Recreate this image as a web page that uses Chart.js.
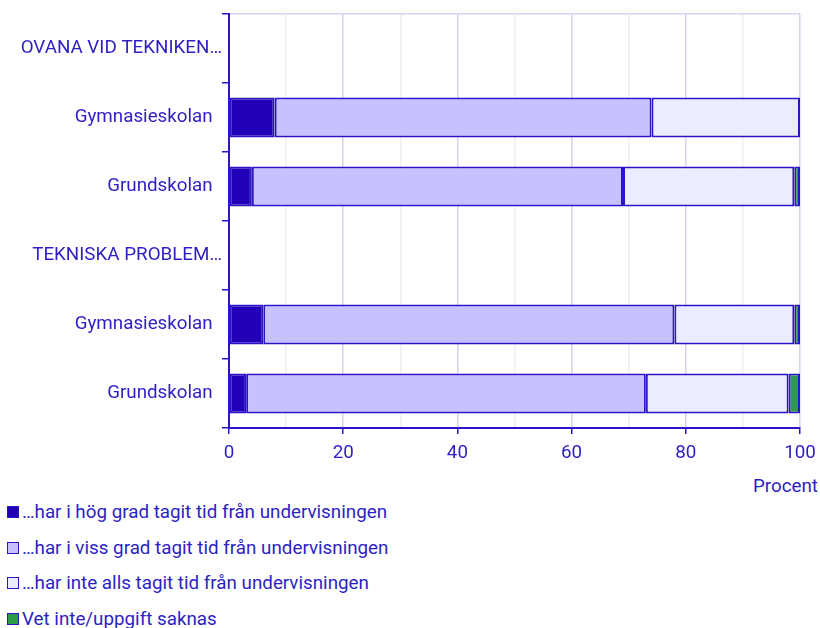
<!DOCTYPE html>
<html>
<head>
<meta charset="utf-8">
<script src="https://cdn.jsdelivr.net/npm/chart.js@4"></script>
<style>
    body { margin: 0; background: #fff; font-family: Roboto, sans-serif; color: #2d1fc4; }
    #wrap { position: relative; width: 820px; height: 628px; }
    #chartBox { position: absolute; left: 0; top: 0; width: 820px; height: 470px; }
    #procent { position: absolute; right: 2px; top: 475px; font-size: 18.8px; }
    #legend { position: absolute; left: 7px; top: 500px; }
    .item { height: 35.5px; display: flex; align-items: flex-start; font-size: 18.8px; line-height: 24px; }
    .box { width: 10px; height: 10px; border: 1.5px solid #2b14c8; margin: 6px 3px 0 0; }
</style>
</head>
<body>
<div id="wrap">
    <div id="chartBox"><canvas id="chart"></canvas></div>
    <div id="procent">Procent</div>
    <div id="legend"></div>
</div>
<script>
    var categories = ['OVANA VID TEKNIKEN…', 'Gymnasieskolan', 'Grundskolan', 'TEKNISKA PROBLEM…', 'Gymnasieskolan', 'Grundskolan'];
    var isHeader = [true, false, false, true, false, false];
    var hogGrad = [null, 8, 4, null, 6, 3];
    var vissGrad = [null, 66, 65, null, 72, 70];
    var inteAlls = [null, 26, 30, null, 21, 25];
    var vetInte = [null, null, 1, null, 1, 2];
    var xTicks = [0, 20, 40, 60, 80, 100];
    var seriesNames = ['…har i hög grad tagit tid från undervisningen', '…har i viss grad tagit tid från undervisningen', '…har inte alls tagit tid från undervisningen', 'Vet inte/uppgift saknas'];
    var seriesColors = ['#2200b8', '#c8c0ff', '#ecebff', '#2f9a48'];

    var textColor = '#2d1fc4';
    var axisColor = '#2b14c8';
    var fontSize = 18.8;

    // header rows sit closer to the axis, so pad the others with spaces
    var labels = categories.map(function(c, i) {
        return isHeader[i] ? c : c + '  ';
    });

    var seriesData = [hogGrad, vissGrad, inteAlls, vetInte];
    var datasets = seriesData.map(function(d, i) {
        return {
            label: seriesNames[i],
            data: d,
            backgroundColor: seriesColors[i],
            borderColor: axisColor,
            borderWidth: 2,
            borderSkipped: false,
            barPercentage: 0.58,
            categoryPercentage: 1
        }
    });

    var ctx = document.getElementById("chart").getContext("2d");
    var chart = new Chart(ctx, {
        type: 'bar',
        data: {
            labels: labels,
            datasets: datasets
        },
        options: {
            indexAxis: 'y',
            responsive: true,
            maintainAspectRatio: false,
            animation: false,
            layout: {
                padding: { top: 14, right: 20, left: 0, bottom: 0 }
            },
            plugins: {
                legend: { display: false },
                tooltip: { enabled: false }
            },
            scales: {
                x: {
                    stacked: true,
                    min: 0,
                    max: 100,
                    ticks: {
                        stepSize: 10,
                        color: textColor,
                        font: { family: 'Roboto', size: fontSize },
                        padding: 8,
                        maxRotation: 0,
                        autoSkip: false,
                        callback: function(v) {
                            return xTicks.indexOf(v) >= 0 ? v : '';
                        }
                    },
                    grid: {
                        color: function(c) {
                            return c.tick && c.tick.value % 20 == 0 ? '#d6d2f2' : '#efeef4';
                        },
                        lineWidth: 1.5,
                        tickLength: 6,
                        tickColor: function(c) {
                            return c.tick && c.tick.value % 20 == 0 ? axisColor : 'rgba(0,0,0,0)';
                        }
                    },
                    border: { color: axisColor, width: 2 },
                    afterFit: function(scale) {
                        scale.height = 42;
                        scale.paddingLeft = 0;
                        scale.paddingRight = 0;
                    }
                },
                y: {
                    stacked: true,
                    ticks: {
                        color: textColor,
                        font: { family: 'Roboto', size: fontSize },
                        padding: 0
                    },
                    grid: {
                        offset: true,
                        color: function(c) {
                            return c.index === 0 ? '#d6d2f2' : 'rgba(0,0,0,0)';
                        },
                        lineWidth: 1.5,
                        tickLength: 7,
                        tickColor: axisColor
                    },
                    border: { color: axisColor, width: 2 },
                    afterFit: function(scale) {
                        scale.width = 229;
                    }
                }
            }
        }
    });

    var legend = document.getElementById('legend');
    seriesNames.forEach(function(name, i) {
        var item = document.createElement('div');
        item.className = 'item';
        item.innerHTML = '<div class="box" style="background:' + seriesColors[i] + '"></div><span>' + name + '</span>';
        legend.appendChild(item);
    });
</script>
</body>
</html>
